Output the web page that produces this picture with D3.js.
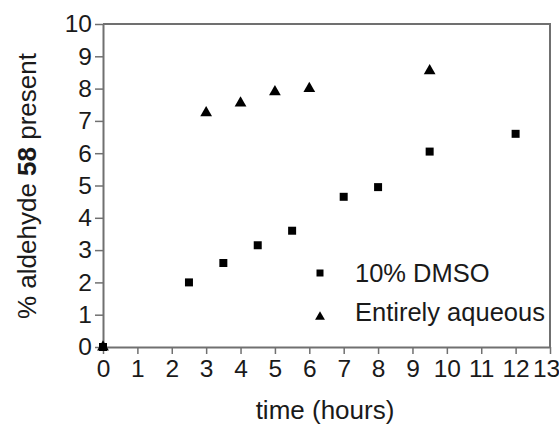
<!DOCTYPE html>
<html>
<head>
<meta charset="utf-8">
<script src="https://cdn.jsdelivr.net/npm/d3@7"></script>
<style>
  body { margin: 0; background: #fff; }
  text { font-family: "Liberation Sans", Arial, sans-serif; }
</style>
</head>
<body>
<div id="my_chart"></div>
<script>
// data
var dmsoTime   = [0, 2.5, 3.5, 4.5, 5.5, 7, 8, 9.5, 12];
var dmsoValue  = [0, 2.0, 2.6, 3.15, 3.6, 4.65, 4.95, 6.05, 6.6];
var aqTime     = [0, 3, 4, 5, 6, 9.5];
var aqValue    = [0, 7.25, 7.55, 7.9, 8.0, 8.55];
var xTicks = [0, 1, 2, 3, 4, 5, 6, 7, 8, 9, 10, 11, 12, 13];
var yTicks = [0, 1, 2, 3, 4, 5, 6, 7, 8, 9, 10];
var seriesNames = ["10% DMSO", "Entirely aqueous"];

// set the dimensions and margins of the graph
var margin = {top: 24, right: 9, bottom: 78, left: 103},
    width = 559 - margin.left - margin.right,
    height = 425 - margin.top - margin.bottom;

var svg = d3.select("#my_chart")
  .append("svg")
    .attr("width", width + margin.left + margin.right)
    .attr("height", height + margin.top + margin.bottom)
  .append("g")
    .attr("transform", "translate(" + margin.left + "," + margin.top + ")");

var axisColor = "#707070";

var x = d3.scaleLinear().domain([0, 13]).range([0, width]);
var y = d3.scaleLinear().domain([0, 10]).range([height, 0]);

// frame (top and right)
svg.append("path")
  .attr("d", "M0,0H" + width + "V" + height)
  .attr("fill", "none")
  .attr("stroke", axisColor)
  .attr("stroke-width", 2);

// X axis
var gx = svg.append("g")
  .attr("transform", "translate(0," + height + ")")
  .call(d3.axisBottom(x).tickValues(xTicks).tickSize(7).tickPadding(6).tickSizeOuter(0));

// Y axis
var gy = svg.append("g")
  .call(d3.axisLeft(y).tickValues(yTicks).tickSize(8).tickPadding(3).tickSizeOuter(0));

[gx, gy].forEach(function(g) {
  g.select(".domain").attr("stroke", axisColor).attr("stroke-width", 2);
  g.selectAll(".tick line").attr("stroke", axisColor).attr("stroke-width", 1.5);
  g.selectAll(".tick text")
    .attr("fill", "#1a1a1a")
    .style("font-size", "24.5px");
});
// the last label sits a little to the left, as in the reference
gx.selectAll(".tick text").filter(function(d) { return d === 13; }).attr("dx", -4);

// markers
var square = d3.symbol().type(d3.symbolSquare).size(64);
var tri = d3.symbol().type(d3.symbolTriangle).size(60);

svg.selectAll(".dmso")
  .data(d3.range(dmsoTime.length))
  .enter()
  .append("path")
    .attr("d", square)
    .attr("transform", function(i) { return "translate(" + x(dmsoTime[i]) + "," + y(dmsoValue[i]) + ")"; })
    .attr("fill", "#000");

svg.selectAll(".aq")
  .data(d3.range(aqTime.length))
  .enter()
  .append("path")
    .attr("d", tri)
    .attr("transform", function(i) { return "translate(" + x(aqTime[i]) + "," + y(aqValue[i]) + ")"; })
    .attr("fill", "#000");

// legend
var legend = svg.append("g").attr("transform", "translate(217,249)");
legend.append("path")
  .attr("d", d3.symbol().type(d3.symbolSquare).size(49))
  .attr("fill", "#000");
legend.append("path")
  .attr("d", d3.symbol().type(d3.symbolTriangle).size(42))
  .attr("transform", "translate(0,44)")
  .attr("fill", "#000");
legend.selectAll(".lbl")
  .data(seriesNames)
  .enter()
  .append("text")
    .attr("x", 35)
    .attr("y", function(d, i) { return 9 + i * 39; })
    .attr("fill", "#1a1a1a")
    .style("font-size", "25.5px")
    .text(function(d) { return d; });

// axis titles
svg.append("text")
  .attr("x", 222)
  .attr("y", height + 72)
  .attr("text-anchor", "middle")
  .attr("fill", "#1a1a1a")
  .style("font-size", "26px")
  .text("time (hours)");

var yl = svg.append("text")
  .attr("transform", "translate(" + (-67) + "," + 162 + ") rotate(-90)")
  .attr("text-anchor", "middle")
  .attr("fill", "#1a1a1a")
  .style("font-size", "26px");
yl.append("tspan").text("% aldehyde ");
yl.append("tspan").style("font-weight", "bold").text("58");
yl.append("tspan").text(" present");
</script>
</body>
</html>
